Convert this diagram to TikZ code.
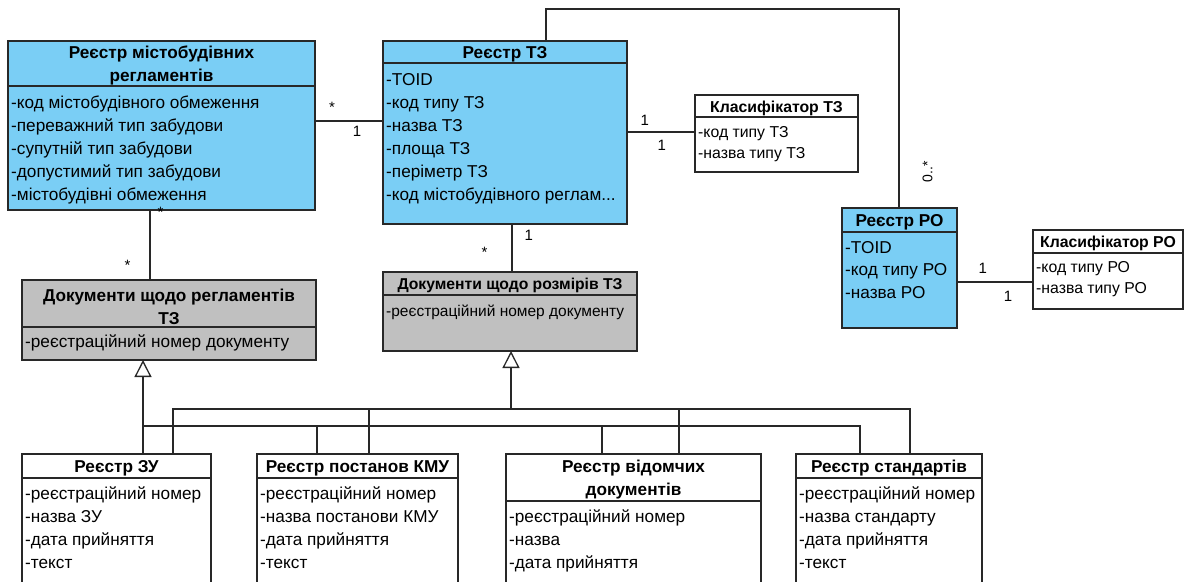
\documentclass[tikz,border=0pt]{standalone}
\usepackage{fontspec}
\setmainfont{Liberation Sans}
\usetikzlibrary{arrows.meta}
\definecolor{regblue}{RGB}{122,206,245}
\definecolor{docgray}{RGB}{192,192,192}
\definecolor{linegray}{RGB}{40,40,40}
\newcommand{\trdots}{...}
\tikzset{
  hdr/.style={draw=linegray, line width=1.3pt, anchor=north west, inner sep=0pt, outer sep=0pt},
  bdy/.style={draw=linegray, line width=1.3pt, anchor=north west, inner sep=0pt, outer sep=0pt},
  ttl/.style={inner sep=0pt, align=center, yshift=-2pt, font=\fontsize{17.2}{23}\selectfont\bfseries},
  attr/.style={anchor=base west, inner sep=0pt},
  small/.style={font=\fontsize{15.8}{20}\selectfont},
  mult/.style={inner sep=0pt, font=\fontsize{15}{15}\selectfont},
  line/.style={draw=linegray, line width=1.3pt},
  gen/.style={line, -{Triangle[open, length=17pt, width=17pt, fill=white]}}
}
\begin{document}
\begin{tikzpicture}[x=1pt, y=-1pt, font=\fontsize{17.2}{23}\selectfont]
\useasboundingbox (0,0) rectangle (1186,581);
\clip (0,0) rectangle (1186,581);

% registers
\node[hdr, fill=regblue, minimum width=307pt, minimum height=45pt] (rmr-h) at (8,41) {};
\node[ttl] (rmr-t) at (rmr-h.center) {Реєстр містобудівних\\регламентів};
\node[bdy, fill=regblue, minimum width=307pt, minimum height=124pt] (rmr-b) at (rmr-h.south west) {};
\foreach \a [count=\i] in {-код містобудівного обмеження, -переважний тип забудови, -супутній тип забудови, -допустимий тип забудови, -містобудівні обмеження}
  \node[attr] (rmr-a\i) at ([shift={(3,22+23*(\i-1))}]rmr-b.north west) {\a};

\node[hdr, fill=regblue, minimum width=244pt, minimum height=22pt] (rtz-h) at (383,41) {};
\node[ttl] (rtz-t) at (rtz-h.center) {Реєстр ТЗ};
\node[bdy, fill=regblue, minimum width=244pt, minimum height=161pt] (rtz-b) at (rtz-h.south west) {};
\foreach \a [count=\i] in {-TOID, -код типу ТЗ, -назва ТЗ, -площа ТЗ, -періметр ТЗ, -код містобудівного реглам\trdots}
  \node[attr] (rtz-a\i) at ([shift={(3,22+23*(\i-1))}]rtz-b.north west) {\a};

\node[hdr, fill=white, minimum width=163pt, minimum height=22pt] (ktz-h) at (695,95) {};
\node[ttl, font=\fontsize{15.8}{20}\selectfont\bfseries] (ktz-t) at (ktz-h.center) {Класифікатор ТЗ};
\node[bdy, fill=white, minimum width=163pt, minimum height=55pt] (ktz-b) at (ktz-h.south west) {};
\foreach \a [count=\i] in {-код типу ТЗ, -назва типу ТЗ}
  \node[attr, small] (ktz-a\i) at ([shift={(3,20+21*(\i-1))}]ktz-b.north west) {\a};

\node[hdr, fill=regblue, minimum width=115pt, minimum height=24pt] (rro-h) at (842,208) {};
\node[ttl] (rro-t) at (rro-h.center) {Реєстр РО};
\node[bdy, fill=regblue, minimum width=115pt, minimum height=96pt] (rro-b) at (rro-h.south west) {};
\foreach \a [count=\i] in {-TOID, -код типу РО, -назва РО}
  \node[attr] (rro-a\i) at ([shift={(3,21+22.5*(\i-1))}]rro-b.north west) {\a};

\node[hdr, fill=white, minimum width=150pt, minimum height=23pt] (kro-h) at (1033,230) {};
\node[ttl, font=\fontsize{15.8}{20}\selectfont\bfseries] (kro-t) at (kro-h.center) {Класифікатор РО};
\node[bdy, fill=white, minimum width=150pt, minimum height=56pt] (kro-b) at (kro-h.south west) {};
\foreach \a [count=\i] in {-код типу РО, -назва типу РО}
  \node[attr, small] (kro-a\i) at ([shift={(3,19+21*(\i-1))}]kro-b.north west) {\a};

% documents
\node[hdr, fill=docgray, minimum width=294pt, minimum height=47pt] (drg-h) at (22,280) {};
\node[ttl, yshift=-1.5pt] (drg-t) at (drg-h.center) {Документи щодо регламентів\\ТЗ};
\node[bdy, fill=docgray, minimum width=294pt, minimum height=33pt] (drg-b) at (drg-h.south west) {};
\node[attr] (drg-a1) at ([shift={(3,20)}]drg-b.north west) {-реєстраційний номер документу};

\node[hdr, fill=docgray, minimum width=254pt, minimum height=23pt] (drz-h) at (383,272) {};
\node[ttl, font=\fontsize{15.7}{20}\selectfont\bfseries] (drz-t) at (drz-h.center) {Документи щодо розмірів ТЗ};
\node[bdy, fill=docgray, minimum width=254pt, minimum height=56pt] (drz-b) at (drz-h.south west) {};
\node[attr, font=\fontsize{15.5}{20}\selectfont] (drz-a1) at ([shift={(3,21)}]drz-b.north west) {-реєстраційний номер документу};

\node[hdr, fill=white, minimum width=189pt, minimum height=24pt] (rzu-h) at (22,454) {};
\node[ttl] (rzu-t) at (rzu-h.center) {Реєстр ЗУ};
\node[bdy, fill=white, minimum width=189pt, minimum height=140pt] (rzu-b) at (rzu-h.south west) {};
\foreach \a [count=\i] in {-реєстраційний номер, -назва ЗУ, -дата прийняття, -текст}
  \node[attr] (rzu-a\i) at ([shift={(3,21+23*(\i-1))}]rzu-b.north west) {\a};

\node[hdr, fill=white, minimum width=201pt, minimum height=24pt] (rpk-h) at (257,454) {};
\node[ttl] (rpk-t) at (rpk-h.center) {Реєстр постанов КМУ};
\node[bdy, fill=white, minimum width=201pt, minimum height=140pt] (rpk-b) at (rpk-h.south west) {};
\foreach \a [count=\i] in {-реєстраційний номер, -назва постанови КМУ, -дата прийняття, -текст}
  \node[attr] (rpk-a\i) at ([shift={(3,21+23*(\i-1))}]rpk-b.north west) {\a};

\node[hdr, fill=white, minimum width=255pt, minimum height=47pt] (rvd-h) at (506,454) {};
\node[ttl, yshift=-0.5pt] (rvd-t) at (rvd-h.center) {Реєстр відомчих\\документів};
\node[bdy, fill=white, minimum width=255pt, minimum height=120pt] (rvd-b) at (rvd-h.south west) {};
\foreach \a [count=\i] in {-реєстраційний номер, -назва, -дата прийняття}
  \node[attr] (rvd-a\i) at ([shift={(3,21+23*(\i-1))}]rvd-b.north west) {\a};

\node[hdr, fill=white, minimum width=186pt, minimum height=24pt] (rst-h) at (796,454) {};
\node[ttl] (rst-t) at (rst-h.center) {Реєстр стандартів};
\node[bdy, fill=white, minimum width=186pt, minimum height=140pt] (rst-b) at (rst-h.south west) {};
\foreach \a [count=\i] in {-реєстраційний номер, -назва стандарту, -дата прийняття, -текст}
  \node[attr] (rst-a\i) at ([shift={(3,21+23*(\i-1))}]rst-b.north west) {\a};

% associations
\draw[line] (rmr-b.east |- 0,121) -- node[mult, pos=0.25, above=8pt] {*} node[mult, pos=0.62, below=5pt] {1} (rtz-b.west |- 0,121);
\draw[line] (rtz-b.east |- 0,132) -- node[mult, pos=0.26, above=6pt] {1} node[mult, pos=0.51, below=8pt] {1} (ktz-b.west |- 0,132);
\draw[line] (rro-b.east |- 0,282) -- node[mult, pos=0.34, above=8pt] {1} node[mult, pos=0.67, below=9pt] {1} (kro-b.west |- 0,282);
\draw[line] (rmr-b.south -| 150,0) -- node[mult, pos=0.04, right=7pt] {*} node[mult, pos=0.79, left=19pt] {*} (drg-h.north -| 150,0);
\draw[line] (rtz-b.south -| 512,0) -- node[mult, pos=0.6, left=24pt] {*} node[mult, pos=0.23, right=12pt] {1} (drz-h.north -| 512,0);
\draw[line] (rtz-h.north -| 546,0) -- (546,9) -| (rro-h.north -| 899,0);
\node[mult, rotate=90, font=\fontsize{14}{14}\selectfont] (lbl-ro) at ([shift={(28,-36)}]rro-h.north) {0..*};

% generalizations
\coordinate (g1) at (143,426);
\coordinate (g2) at (511,409);
\draw[gen] (rzu-h.north -| g1) -- (drg-b.south -| g1);
\draw[line] (g1) -- (860,426) -- (rst-h.north -| 860,0);
\draw[line] (317,426) -- (rpk-h.north -| 317,0);
\draw[line] (602,426) -- (rvd-h.north -| 602,0);
\draw[gen] (g2) -- (drz-b.south -| g2);
\draw[line] (rzu-h.north -| 173,0) -- (173,409) -- (910,409) -- (rst-h.north -| 910,0);
\draw[line] (369,409) -- (rpk-h.north -| 369,0);
\draw[line] (679,409) -- (rvd-h.north -| 679,0);
\end{tikzpicture}
\end{document}
